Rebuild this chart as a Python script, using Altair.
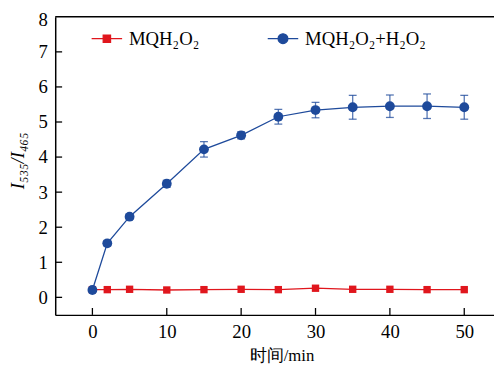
import altair as alt
import pandas as pd

# ---- data ----
time = [0, 2, 5, 10, 15, 20, 25, 30, 35, 40, 45, 50]
red_vals = [0.22, 0.22, 0.23, 0.21, 0.22, 0.23, 0.22, 0.26, 0.23, 0.23, 0.22, 0.22]
blue_vals = [0.21, 1.54, 2.30, 3.24, 4.22, 4.62, 5.15, 5.34, 5.42, 5.45, 5.45, 5.42]
blue_err = [0.04, 0.07, 0.07, 0.10, 0.22, 0.10, 0.21, 0.22, 0.34, 0.32, 0.35, 0.34]
red_err = [0, 0, 0, 0, 0, 0, 0, 0, 0, 0, 0, 0]
series_names = ["MQH₂O₂", "MQH₂O₂+H₂O₂"]
x_ticks = [0, 10, 20, 30, 40, 50]
y_ticks = [0, 1, 2, 3, 4, 5, 6, 7, 8]
y_inner_ticks = [0, 1, 2, 3, 4, 5, 6, 7]

RED = "#E0161D"
BLUE = "#1E4A9B"
SERIF = "Liberation Serif"

df = pd.DataFrame({
    "time": time + time,
    "value": red_vals + blue_vals,
    "err": red_err + blue_err,
    "series": [series_names[0]] * len(time) + [series_names[1]] * len(time),
})
df["lo"] = df["value"] - df["err"]
df["hi"] = df["value"] + df["err"]

W, H = 446, 303
xs = alt.Scale(domain=[-5, 54], nice=False, zero=False)
ys = alt.Scale(domain=[-0.5, 8], nice=False, zero=False)
xaxis = alt.Axis(values=x_ticks, title="时间/min", labelPadding=8,
                 titleX=230, titleY=33, titleAlign="center", titleBaseline="top",
                 titleFontSize=17)
yaxis = alt.Axis(values=y_ticks, title="I₅₃₅/I₄₆₅", titleFontStyle="italic",
                 labelPadding=8, labelFlush=True, labelFlushOffset=6,
                 titleAngle=270, titleX=-28, titleY=146, titleAlign="center",
                 titleBaseline="bottom", titleFontSize=19)


def X(f):
    return alt.X(f, scale=xs, axis=xaxis)


def Y(f):
    return alt.Y(f, scale=ys, axis=yaxis)


base = alt.Chart(df)
blue_only = base.transform_filter(alt.datum.series == series_names[1])
red_only = base.transform_filter(alt.datum.series == series_names[0])

red_line = red_only.mark_line(strokeWidth=1.3, color=RED).encode(x=X("time:Q"), y=Y("value:Q"))
blue_line = blue_only.mark_line(strokeWidth=1.3, color=BLUE).encode(x=X("time:Q"), y=Y("value:Q"))

err_rule = blue_only.mark_rule(color=BLUE, strokeWidth=1.3, opacity=0.75).encode(
    x=X("time:Q"), y=Y("lo:Q"), y2="hi:Q")
cap_lo = blue_only.mark_tick(color=BLUE, orient="horizontal", size=8, thickness=1.3, opacity=0.75).encode(
    x=X("time:Q"), y=Y("lo:Q"))
cap_hi = blue_only.mark_tick(color=BLUE, orient="horizontal", size=8, thickness=1.3, opacity=0.75).encode(
    x=X("time:Q"), y=Y("hi:Q"))

red_pts = red_only.mark_square(size=56, color=RED, opacity=1).encode(x=X("time:Q"), y=Y("value:Q"))
blue_pts = blue_only.mark_circle(size=100, color=BLUE, opacity=1).encode(x=X("time:Q"), y=Y("value:Q"))

# legend symbols: a short line with a marker in the middle
sq = "M-1,0H1M-0.24,-0.24H0.24V0.24H-0.24Z"
ci = "M-1,0H1M0.32,0A0.32,0.32 0 1,1 -0.32,0A0.32,0.32 0 1,1 0.32,0Z"
leg = alt.Legend(orient="none", legendX=36, legendY=5.5, direction="horizontal", title=None,
                 labelFont=SERIF, labelFontSize=19, labelColor="black", labelOffset=6,
                 columnPadding=66, symbolSize=961, symbolStrokeWidth=1.3, padding=0)
legend_layer = base.transform_filter("false").mark_point(filled=True, opacity=1, strokeWidth=1.3).encode(
    x=X("time:Q"), y=Y("value:Q"),
    shape=alt.Shape("series:N", scale=alt.Scale(domain=series_names, range=[sq, ci]), legend=leg),
    fill=alt.Fill("series:N", scale=alt.Scale(domain=series_names, range=[RED, BLUE]), legend=leg),
    stroke=alt.Stroke("series:N", scale=alt.Scale(domain=series_names, range=[RED, BLUE]), legend=leg),
)

# inward tick marks
xt = alt.Chart(pd.DataFrame({"t": x_ticks})).mark_rule(color="black", strokeWidth=1.3).encode(
    x=X("t:Q"), y=alt.value(H), y2=alt.value(H - 7))
yt = alt.Chart(pd.DataFrame({"t": y_inner_ticks})).mark_rule(color="black", strokeWidth=1.3).encode(
    y=Y("t:Q"), x=alt.value(0), x2=alt.value(7))
top = alt.Chart(pd.DataFrame({"a": [0]})).mark_rule(color="black", strokeWidth=1.5).encode(
    x=alt.value(0), x2=alt.value(W), y=alt.value(0))

chart = alt.layer(red_line, blue_line, err_rule, cap_lo, cap_hi, red_pts, blue_pts,
                  legend_layer, xt, yt, top).properties(
    width=W, height=H,
    autosize=alt.AutoSizeParams(type="none"),
    padding={"left": 48, "top": 6, "right": 0, "bottom": 48},
).configure_view(stroke="transparent").configure_axis(
    labelFont=SERIF, labelFontSize=19, labelColor="black",
    titleFont=SERIF, titleColor="black", titleFontWeight="normal",
    domainColor="black", domainWidth=1.5, ticks=False, grid=False,
)

chart.save("out.html", embed_options={"renderer": "svg", "actions": False})
